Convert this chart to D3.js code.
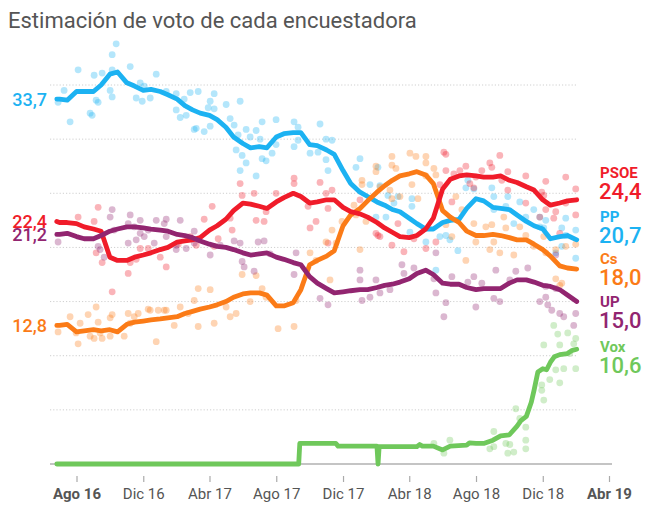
<!DOCTYPE html>
<html><head><meta charset="utf-8">
<script src="https://cdn.jsdelivr.net/npm/d3@7"></script>
<style>body{margin:0;background:#fff;} svg{display:block;font-family:Roboto,"Noto Sans",sans-serif;}</style>
</head><body><svg id="c" width="660" height="516"></svg>
<script>
// ---------- DATA ----------
const dates = ["2016-06-26","2016-07-01","2016-07-15","2016-08-01","2016-08-15","2016-09-01","2016-09-15","2016-10-01","2016-10-15","2016-11-01","2016-11-15","2016-12-01","2016-12-15","2017-01-01","2017-01-15","2017-02-01","2017-02-15","2017-03-01","2017-03-15","2017-04-01","2017-04-15","2017-05-01","2017-05-15","2017-06-01","2017-06-15","2017-07-01","2017-07-15","2017-08-01","2017-08-15","2017-09-01","2017-09-15","2017-10-01","2017-10-15","2017-11-01","2017-11-15","2017-12-01","2017-12-15","2018-01-01","2018-01-15","2018-02-01","2018-02-15","2018-03-01","2018-03-15","2018-04-01","2018-04-15","2018-05-01","2018-05-15","2018-06-01","2018-06-15","2018-07-01","2018-07-15","2018-08-01","2018-08-15","2018-09-01","2018-09-15","2018-10-01","2018-10-15","2018-11-01","2018-11-15","2018-12-01","2018-12-15","2019-01-01","2019-01-15","2019-02-01"];

const ppValues = [33.7,33.7,33.6,34.4,34.4,34.4,35.0,36.0,36.2,35.2,34.9,34.5,34.6,34.4,34.1,33.7,33.1,32.7,32.4,32.2,31.8,31.1,30.2,29.6,29.2,29.3,29.2,30.2,30.5,30.6,30.6,29.5,29.4,29.0,28.6,27.1,25.9,25.1,24.7,24.2,23.9,23.5,23.3,22.7,22.2,21.7,21.7,22.3,22.5,22.6,23.6,24.5,24.3,23.7,23.6,23.5,23.0,22.4,22.0,21.7,20.8,21.0,21.1,20.7];
const psoeValues = [22.4,22.3,22.3,22.2,21.9,21.7,21.5,19.1,18.8,18.8,19.1,19.3,19.5,19.8,20.0,20.5,20.6,20.7,20.9,21.6,22.0,22.6,23.4,24.1,24.0,23.8,23.6,24.2,24.6,25.0,24.7,24.1,24.2,24.4,24.4,23.7,23.3,23.1,22.8,22.3,21.8,21.4,21.0,20.9,21.1,21.7,22.7,25.4,26.3,26.6,26.7,26.6,26.5,26.5,26.6,26.2,26.0,25.6,25.3,24.4,23.9,24.1,24.3,24.4];
const csValues = [12.8,12.8,12.9,12.2,12.3,12.4,12.3,12.4,12.2,12.9,13.1,13.2,13.3,13.4,13.5,13.6,13.9,14.1,14.3,14.5,14.7,15.0,15.4,15.7,15.8,15.8,15.6,14.6,14.6,14.9,16.1,18.4,18.8,19.2,19.7,22.0,23.0,23.6,24.3,25.1,25.7,26.2,26.6,26.8,27.0,26.7,25.9,23.4,22.8,22.3,21.5,21.1,21.1,21.2,21.1,20.9,20.7,20.7,20.3,19.8,19.2,18.3,18.1,18.0];
const upValues = [21.2,21.2,21.3,21.0,20.8,20.8,21.1,21.5,21.7,21.9,21.9,21.8,21.7,21.6,21.5,21.2,21.1,20.9,20.6,20.3,20.1,20.0,19.8,19.5,19.3,19.4,19.5,19.1,18.9,18.6,18.4,17.3,16.7,16.2,15.8,15.9,16.0,16.1,16.1,16.3,16.5,16.6,16.8,17.1,17.6,17.9,17.5,16.7,16.6,16.6,16.3,16.1,16.2,16.2,16.2,16.7,17.0,17.0,16.8,16.5,16.4,16.1,15.6,15.0];

const voxDates = ["2016-06-26","2017-09-11","2017-09-13","2017-11-18","2017-11-22","2018-02-01","2018-02-03","2018-02-05","2018-04-15","2018-04-20","2018-04-25","2018-05-15","2018-06-01","2018-06-15","2018-07-15","2018-07-20","2018-08-01","2018-08-15","2018-09-01","2018-09-15","2018-10-01","2018-10-15","2018-10-22","2018-11-01","2018-11-10","2018-11-15","2018-11-22","2018-12-01","2018-12-08","2018-12-15","2018-12-22","2019-01-01","2019-01-15","2019-01-24","2019-02-01"];
const voxValues = [0,0,1.9,1.9,1.65,1.65,0,1.6,1.6,1.8,1.65,1.65,1.3,1.65,1.75,1.95,1.9,1.9,2.2,2.6,2.7,3.5,4.0,4.4,5.7,6.8,8.5,8.8,8.7,9.4,9.9,10.1,10.2,10.5,10.6];

// individual polls: [decimal year, value]
const ppPolls = [[2016.78,38.8],[2016.76,37.8],[2016.59,36.4],[2016.52,34.5],[2016.49,33.4],[2016.55,31.6],[2016.65,32.4],[2016.66,32.2],[2016.67,35.9],[2016.71,36.1],[2016.76,36.4],[2016.76,33.9],[2016.75,34.5],[2016.68,33.6],[2016.69,33.4],[2016.85,36.7],[2016.98,36.0],[2016.90,35.2],[2016.92,34.9],[2016.88,33.8],[2016.91,33.5],[2016.95,33.8],[2017.03,34.4],[2017.08,34.2],[2017.08,32.7],[2017.10,32.0],[2017.13,32.2],[2017.12,33.7],[2017.15,34.3],[2017.19,34.4],[2017.27,34.2],[2017.25,33.5],[2017.27,32.8],[2017.24,32.9],[2017.17,30.9],[2017.18,31.0],[2017.22,30.7],[2017.25,31.2],[2017.33,33.2],[2017.40,33.5],[2017.35,31.9],[2017.37,31.3],[2017.43,30.9],[2017.39,30.4],[2017.38,29.0],[2017.41,28.5],[2017.43,27.8],[2017.40,27.1],[2017.45,30.2],[2017.48,30.8],[2017.51,31.6],[2017.50,30.0],[2017.51,28.2],[2017.53,28.0],[2017.56,28.7],[2017.58,31.8],[2017.58,29.5],[2017.67,31.6],[2017.69,31.1],[2017.67,29.3],[2017.69,29.9],[2017.75,28.7],[2017.79,28.8],[2017.80,31.4],[2017.83,30.0],[2017.86,29.9],[2017.83,28.1],[2017.84,27.1],[2018.00,28.2],[2017.98,27.4],[2018.09,27.4],[2018.05,25.8],[2018.10,25.7],[2018.19,24.7],[2018.17,24.1],[2018.26,23.8],[2018.25,21.4],[2018.33,20.5],[2018.43,21.1],[2018.40,21.0],[2018.49,19.7],[2018.53,25.5],[2018.54,26.2],[2018.57,25.4],[2018.66,25.5],[2018.67,24.7],[2018.74,24.7],[2018.80,24.2],[2018.73,23.8],[2018.77,22.2],[2018.83,22.8],[2018.90,22.8],[2018.92,21.8],[2019.03,22.7],[2019.01,21.8],[2019.03,21.1],[2019.08,21.6],[2019.08,19.0],[2018.98,19.5],[2018.14,24.8],[2018.26,24.5],[2018.08,22.8],[2018.13,22.8],[2018.45,20.7],[2018.67,23.5],[2018.87,23.5],[2018.93,22.5],[2019.01,20.1],[2018.90,21.9],[2018.38,17.9],[2017.48,26.6]];
const psoePolls = [[2016.69,23.7],[2016.59,22.8],[2016.67,22.4],[2016.71,18.6],[2016.68,19.5],[2016.76,15.9],[2016.84,17.6],[2016.85,18.6],[2016.90,19.9],[2016.94,19.9],[2017.03,18.2],[2017.00,19.1],[2016.88,18.9],[2017.09,20.3],[2017.22,22.6],[2017.26,23.8],[2017.18,20.2],[2017.15,21.0],[2017.35,22.7],[2017.36,21.6],[2017.40,25.9],[2017.41,24.8],[2017.47,25.0],[2017.48,22.5],[2017.52,22.4],[2017.53,23.3],[2017.58,25.0],[2017.67,26.4],[2017.67,25.9],[2017.75,21.8],[2017.74,23.8],[2017.78,22.4],[2017.29,20.8],[2017.27,20.1],[2017.80,26.0],[2017.83,25.0],[2017.86,25.3],[2017.84,23.6],[2018.00,24.4],[2018.08,21.3],[2018.10,21.0],[2018.16,20.2],[2018.19,22.2],[2018.22,19.6],[2018.27,20.8],[2018.33,19.9],[2018.38,20.5],[2018.42,28.8],[2018.43,28.6],[2018.43,27.1],[2018.40,25.8],[2018.50,27.1],[2018.53,27.5],[2018.55,25.9],[2018.57,25.5],[2018.58,26.5],[2018.61,27.1],[2018.65,27.8],[2018.66,27.4],[2018.70,28.5],[2018.71,26.2],[2018.74,27.0],[2018.74,25.3],[2018.83,26.6],[2018.83,24.1],[2018.93,26.1],[2018.91,25.1],[2018.90,22.8],[2018.97,22.7],[2019.03,26.5],[2019.08,25.4],[2019.08,23.0],[2019.00,21.3],[2018.46,24.2],[2018.47,26.8],[2017.84,20.4],[2018.09,21.1],[2018.93,23.5],[2018.98,23.3],[2019.03,24.1],[2018.92,24.8]];
const csPolls = [[2016.68,14.5],[2016.64,13.8],[2016.55,13.6],[2016.60,13.0],[2016.69,13.1],[2016.75,13.5],[2016.87,13.6],[2016.95,14.2],[2016.99,14.2],[2017.02,14.2],[2017.10,14.5],[2017.17,15.1],[2016.70,12.1],[2016.65,11.8],[2016.75,11.8],[2016.58,12.1],[2016.82,11.8],[2016.49,12.2],[2016.59,11.1],[2016.67,11.6],[2016.71,11.6],[2016.76,13.8],[2016.84,13.9],[2016.85,13.0],[2016.89,13.9],[2016.94,14.3],[2017.03,14.2],[2016.98,11.3],[2017.07,12.8],[2017.14,13.9],[2017.19,16.2],[2017.25,16.1],[2017.27,13.0],[2017.19,12.7],[2017.33,14.5],[2017.41,17.5],[2017.48,17.4],[2017.51,16.2],[2017.53,15.4],[2017.59,12.5],[2017.67,12.7],[2017.68,15.1],[2017.75,19.5],[2017.78,18.8],[2017.45,15.0],[2017.38,13.9],[2017.35,13.6],[2018.16,28.4],[2018.25,28.7],[2018.28,28.4],[2018.33,28.4],[2018.33,27.8],[2018.08,27.5],[2018.08,27.0],[2018.16,27.6],[2018.18,27.3],[2018.01,26.2],[2018.01,25.8],[2018.10,25.6],[2018.15,25.3],[2018.16,24.5],[2018.20,24.7],[2018.26,25.8],[2018.33,26.6],[2018.37,27.3],[2018.38,26.7],[2018.29,24.5],[2017.97,23.9],[2017.98,23.0],[2018.03,22.4],[2017.91,22.4],[2017.86,21.6],[2017.83,20.5],[2018.48,24.7],[2018.51,23.5],[2018.57,22.2],[2018.63,21.9],[2018.66,22.1],[2018.72,22.8],[2018.73,21.8],[2018.80,21.9],[2018.83,21.1],[2018.87,20.1],[2018.92,21.0],[2018.93,19.5],[2018.98,19.8],[2019.03,20.1],[2019.08,20.3],[2018.43,22.1],[2018.46,21.0],[2018.58,20.5],[2018.67,20.5],[2018.70,19.5],[2017.85,17.0],[2018.00,19.8],[2017.88,20.4],[2018.53,18.8],[2018.65,19.8],[2018.77,19.3],[2018.98,17.1],[2019.01,16.7],[2019.00,16.5]];
const upPolls = [[2016.49,20.5],[2016.75,22.8],[2016.69,20.1],[2016.85,23.0],[2016.84,22.2],[2016.87,21.9],[2016.90,21.3],[2016.84,20.4],[2016.94,21.6],[2016.97,20.4],[2017.02,22.2],[2017.03,21.0],[2017.10,22.5],[2017.08,20.2],[2017.17,20.4],[2016.70,19.8],[2016.77,21.6],[2016.76,23.5],[2016.90,22.5],[2016.88,20.7],[2016.92,21.0],[2016.98,22.5],[2017.03,22.6],[2017.08,19.8],[2017.13,19.9],[2017.17,21.5],[2017.14,20.8],[2017.25,19.3],[2017.30,20.2],[2017.40,20.4],[2017.37,20.6],[2017.42,18.2],[2017.47,17.8],[2017.41,18.7],[2017.49,20.5],[2017.52,20.6],[2017.55,19.4],[2017.68,19.5],[2017.67,17.5],[2017.80,15.3],[2016.72,19.1],[2017.84,14.7],[2018.00,17.9],[2018.00,17.0],[2018.08,17.0],[2018.05,15.4],[2018.10,15.8],[2018.01,15.1],[2018.15,16.1],[2018.21,18.4],[2018.22,17.6],[2018.27,18.1],[2018.37,17.1],[2018.42,13.6],[2018.43,14.9],[2018.46,17.3],[2018.54,16.8],[2018.57,17.3],[2018.61,16.7],[2018.68,17.9],[2018.67,15.3],[2018.70,15.0],[2018.78,17.8],[2018.84,18.1],[2018.75,17.0],[2018.93,16.4],[2018.93,15.4],[2018.94,14.7],[2018.96,14.2],[2018.98,16.2],[2019.00,13.9],[2019.02,13.6],[2019.08,13.9],[2019.07,12.8],[2018.90,15.0],[2018.58,14.5],[2018.38,15.8],[2018.38,19.5],[2018.98,19.3]];
const voxPolls = [[2018.97,12.8],[2018.99,12.0],[2019.04,12.1],[2019.08,11.6],[2018.92,11.0],[2019.00,11.0],[2019.05,10.2],[2019.08,8.8],[2019.07,11.1],[2019.02,8.8],[2018.98,8.7],[2018.95,7.8],[2019.00,7.5],[2018.91,7.3],[2018.91,6.8],[2018.92,5.9],[2018.78,5.1],[2018.80,4.2],[2018.83,3.4],[2018.67,3.0],[2018.67,1.6],[2018.73,1.9],[2018.75,1.8],[2018.74,1.0],[2018.77,1.1],[2018.83,2.2],[2018.83,1.4],[2018.37,1.9],[2018.42,1.0],[2018.45,2.2],[2018.65,1.4]];

const tickDates = ["2016-08-01","2016-12-01","2017-04-01","2017-08-01","2017-12-01","2018-04-01","2018-08-01","2018-12-01","2019-04-01"];
const tickLabels = ["Ago 16","Dic 16","Abr 17","Ago 17","Dic 17","Abr 18","Ago 18","Dic 18","Abr 19"];
const boldTicks = ["Ago 16","Abr 19"];
const gridValues = [5,10,15,20,25,30,35];

const partyColors = {PP:"#1cb2f2",PSOE:"#f01c2a",Cs:"#fb7b17",UP:"#922570",Vox:"#6fc85b"};
const startLabels = [["PP","33,7",33.7],["PSOE","22,4",22.4],["UP","21,2",21.2],["Cs","12,8",12.8]];
const endLabels = [["PSOE","24,4"],["PP","20,7"],["Cs","18,0"],["UP","15,0"],["Vox","10,6"]];

// ---------- CHART ----------
const parse = d3.utcParse("%Y-%m-%d");
const fromDecimal = v => { const yr = Math.floor(v); const a = Date.UTC(yr,0,1), b = Date.UTC(yr+1,0,1); return new Date(a + (v - yr) * (b - a)); };

const svg = d3.select("#c");
const x = d3.scaleUtc().domain([parse("2016-08-01"), parse("2019-04-01")]).range([76.5, 609]);
const y = d3.scaleLinear().domain([0, 35]).range([464, 85]);

svg.append("text").attr("x", 8).attr("y", 28).attr("fill", "#555")
  .style("font-size", "22px").text("Estimación de voto de cada encuestadora");

// grid
svg.append("g").selectAll("line").data(gridValues).join("line")
  .attr("x1", 50).attr("x2", 576).attr("y1", d => y(d)).attr("y2", d => y(d))
  .attr("stroke", "#cfcfcf").attr("stroke-width", 1).attr("stroke-dasharray", "1.2,2");
svg.append("line").attr("x1", 50).attr("x2", 612).attr("y1", y(0)).attr("y2", y(0))
  .attr("stroke", "#c4c4c4").attr("stroke-width", 2);

// polls
const polls = {PP: ppPolls, PSOE: psoePolls, Cs: csPolls, UP: upPolls, Vox: voxPolls};
const dotG = svg.append("g");
["PP","PSOE","Cs","UP","Vox"].forEach(p => {
  dotG.append("g").selectAll("circle").data(polls[p]).join("circle")
    .attr("cx", d => x(fromDecimal(d[0]))).attr("cy", d => y(d[1])).attr("r", 3.4)
    .attr("fill", partyColors[p]).attr("fill-opacity", 0.33);
});

// lines
const series = {
  PP: dates.map((d, i) => [parse(d), ppValues[i]]),
  PSOE: dates.map((d, i) => [parse(d), psoeValues[i]]),
  Cs: dates.map((d, i) => [parse(d), csValues[i]]),
  UP: dates.map((d, i) => [parse(d), upValues[i]]),
  Vox: voxDates.map((d, i) => [parse(d), voxValues[i]])
};
const line = d3.line().x(d => x(d[0])).y(d => y(d[1]));
["Vox","PP","Cs","PSOE","UP"].forEach(p => {
  svg.append("path").attr("d", line(series[p])).attr("fill", "none")
    .attr("stroke", partyColors[p]).attr("stroke-width", 4.8)
    .attr("stroke-linejoin", "round").attr("stroke-linecap", "round");
});

// start labels
svg.append("g").selectAll("text").data(startLabels).join("text")
  .attr("x", 47).attr("y", d => y(d[2]) + 6.5).attr("text-anchor", "end")
  .attr("fill", d => partyColors[d[0]]).style("font-size", "18px").style("font-weight", 500)
  .text(d => d[1]);

// end labels
const nameY = {PSOE: 178, PP: 222, Cs: 264, UP: 307, Vox: 352};
const eg = svg.append("g");
endLabels.forEach(([p, v]) => {
  eg.append("text").attr("x", 600).attr("y", nameY[p]).attr("fill", partyColors[p])
    .style("font-size", "15px").style("font-weight", 700).text(p);
  eg.append("text").attr("x", 599).attr("y", nameY[p] + 21).attr("fill", partyColors[p])
    .style("font-size", "22px").style("font-weight", 500).text(v);
});

// axis
const axis = d3.axisBottom(x).tickValues(tickDates.map(parse))
  .tickFormat((d, i) => tickLabels[i]).tickSize(6).tickPadding(6);
const ag = svg.append("g").attr("transform", "translate(0,476)").call(axis);
ag.select(".domain").remove();
ag.selectAll(".tick line").attr("stroke", "#aaa").attr("stroke-width", 1.2);
ag.selectAll(".tick text").attr("fill", "#555").style("font-size", "15px")
  .style("font-family", "Roboto, sans-serif")
  .style("font-weight", (d, i) => boldTicks.includes(tickLabels[i]) ? 700 : 400);
</script></body></html>
